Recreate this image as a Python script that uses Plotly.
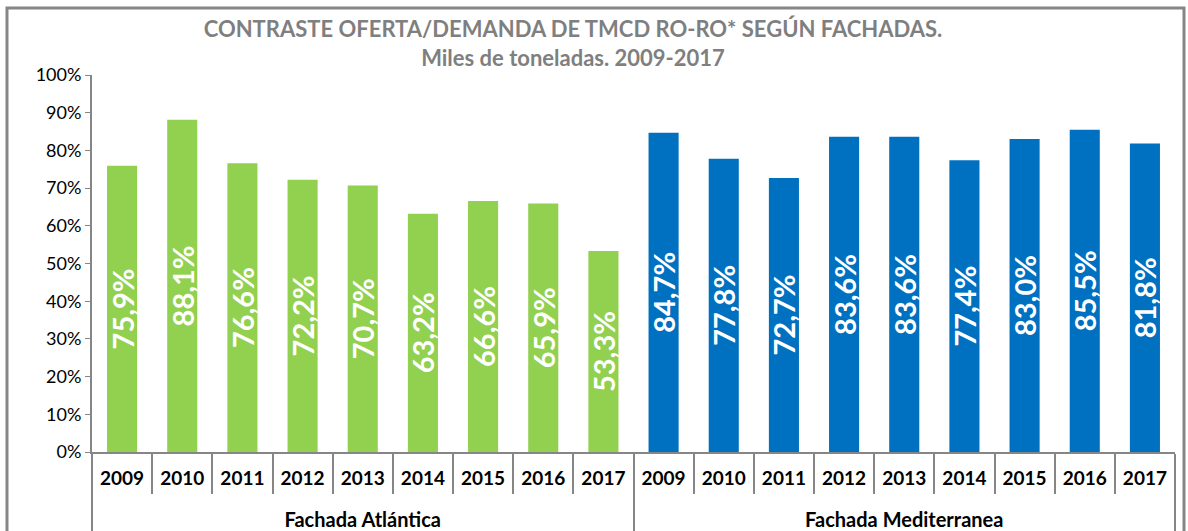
import plotly.graph_objects as go

years = ["2009", "2010", "2011", "2012", "2013", "2014", "2015", "2016", "2017"]
groups = ["Fachada Atlántica", "Fachada Mediterranea"]
atlantica = [75.9, 88.1, 76.6, 72.2, 70.7, 63.2, 66.6, 65.9, 53.3]
mediterranea = [84.7, 77.8, 72.7, 83.6, 83.6, 77.4, 83.0, 85.5, 81.8]
colors = ["#92D050", "#0070C0"]
title_lines = ["CONTRASTE OFERTA/DEMANDA DE TMCD RO-RO* SEGÚN FACHADAS.",
               "Miles de toneladas. 2009-2017"]

def fmt(v):
    return f"{v:.1f}%".replace(".", ",")

def group_label(g):
    return "<br><span style='font-size:20px'>" + g + "</span>"

fig = go.Figure()
for g, vals, c in zip(groups, [atlantica, mediterranea], colors):
    fig.add_trace(go.Bar(
        x=[[group_label(g)] * len(years), years],
        y=vals,
        marker=dict(color=c, line=dict(width=0)),
        text=[fmt(v) for v in vals],
        textposition="inside",
        insidetextanchor="middle",
        textangle=-90,
        textfont=dict(family="Lato", size=29, color="white", weight="bold"),
        showlegend=False,
        hoverinfo="skip",
    ))

fig.update_layout(
    width=1188, height=531,
    margin=dict(l=92, r=13, t=75, b=79, autoexpand=False),
    paper_bgcolor="white", plot_bgcolor="white",
    barmode="relative", bargap=0.5,
    uniformtext=dict(minsize=29, mode="show"),
    font=dict(family="Lato", color="black"),
    title=dict(
        text="<b>" + title_lines[0] + "</b><br><b>" + title_lines[1] + "</b>",
        x=573 / 1188, xanchor="center", y=1 - 37 / 531, yanchor="middle",
        font=dict(family="Lato", size=22, color="#7F7F7F"),
    ),
    xaxis=dict(
        type="multicategory", automargin=False,
        showline=True, linecolor="#868686", linewidth=2,
        ticks="outside", tickson="boundaries", ticklen=40, tickcolor="#868686", tickwidth=2,
        ticklabelstandoff=8,
        showdividers=True, dividercolor="#868686", dividerwidth=2,
        tickfont=dict(family="Lato", size=19, color="black", weight="bold"),
        showgrid=False,
    ),
    yaxis=dict(
        range=[0, 100], dtick=10, ticksuffix="%", automargin=False,
        showline=True, linecolor="#868686", linewidth=2,
        ticks="outside", ticklen=5, tickcolor="#868686",
        showgrid=False, zeroline=False,
        tickfont=dict(family="Lato", size=18, color="black"),
    ),
)

fig.add_shape(type="rect", xref="paper", yref="paper",
              x0=-0.0785, x1=1.0083, y0=-0.5, y1=1.1777,
              line=dict(color="#868686", width=3), fillcolor="rgba(0,0,0,0)", layer="above")

fig.write_html("out.html")
